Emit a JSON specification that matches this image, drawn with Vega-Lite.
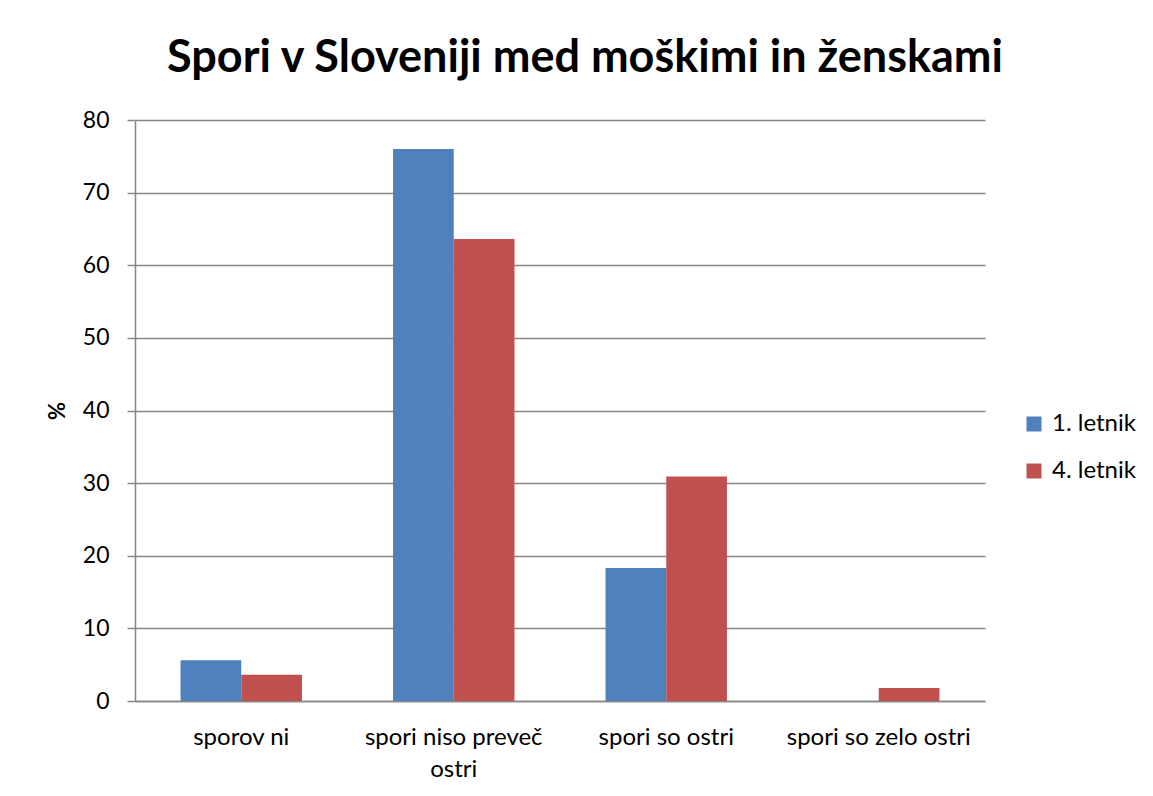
{
  "$schema": "https://vega.github.io/schema/vega-lite/v6.json",
  "autosize": {"type": "none"},
  "padding": {"left": 135, "top": 120, "right": 168, "bottom": 95},
  "width": 850,
  "height": 581,
  "background": "white",
  "title": {
    "text": "Spori v Sloveniji med moškimi in ženskami",
    "font": "Lato",
    "fontSize": 45,
    "fontWeight": "bold",
    "color": "#000000",
    "anchor": "middle",
    "frame": "group",
    "baseline": "alphabetic",
    "dx": 25,
    "offset": -8
  },
  "data": {
    "values": [
      {"kategorija": "sporov ni", "letnik": "1. letnik", "odstotek": 5.6},
      {"kategorija": "sporov ni", "letnik": "4. letnik", "odstotek": 3.6},
      {"kategorija": "spori niso preveč ostri", "letnik": "1. letnik", "odstotek": 76.0},
      {"kategorija": "spori niso preveč ostri", "letnik": "4. letnik", "odstotek": 63.6},
      {"kategorija": "spori so ostri", "letnik": "1. letnik", "odstotek": 18.3},
      {"kategorija": "spori so ostri", "letnik": "4. letnik", "odstotek": 30.9},
      {"kategorija": "spori so zelo ostri", "letnik": "1. letnik", "odstotek": 0},
      {"kategorija": "spori so zelo ostri", "letnik": "4. letnik", "odstotek": 1.8}
    ]
  },
  "mark": {"type": "bar"},
  "encoding": {
    "x": {
      "field": "kategorija",
      "type": "nominal",
      "sort": ["sporov ni", "spori niso preveč ostri", "spori so ostri", "spori so zelo ostri"],
      "scale": {"paddingInner": 0.4286, "paddingOuter": 0.2143},
      "axis": {
        "title": null,
        "labelAngle": 0,
        "labelFont": "Lato",
        "labelFontSize": 24,
        "labelColor": "#000000",
        "labelPadding": 24,
        "labelLimit": 300,
        "ticks": false,
        "domainColor": "#868686",
        "domainWidth": 1.5,
        "labelExpr": "datum.value == 'spori niso preveč ostri' ? ['spori niso preveč', 'ostri'] : datum.label",
        "labelLineHeight": 32
      }
    },
    "xOffset": {"field": "letnik", "type": "nominal"},
    "y": {
      "field": "odstotek",
      "type": "quantitative",
      "scale": {"domain": [0, 80], "nice": false},
      "axis": {
        "title": "%",
        "titleFont": "Lato",
        "titleFontSize": 22,
        "titleFontWeight": "bold",
        "titleColor": "#000000",
        "titlePadding": 13,
        "values": [0, 10, 20, 30, 40, 50, 60, 70, 80],
        "labelFont": "Lato",
        "labelFontSize": 23,
        "labelColor": "#000000",
        "labelPadding": 18,
        "tickSize": 8,
        "tickColor": "#868686",
        "tickWidth": 1.5,
        "domainColor": "#868686",
        "domainWidth": 1.5,
        "grid": true,
        "gridColor": "#868686",
        "gridWidth": 1.5
      }
    },
    "color": {
      "field": "letnik",
      "type": "nominal",
      "scale": {"domain": ["1. letnik", "4. letnik"], "range": ["#4F81BD", "#C0504D"]},
      "legend": {
        "title": null,
        "orient": "none",
        "legendX": 887,
        "legendY": 292,
        "symbolType": "square",
        "symbolSize": 225,
        "symbolStrokeWidth": 0,
        "labelFont": "Lato",
        "labelFontSize": 24,
        "labelColor": "#000000",
        "labelOffset": 6,
        "rowPadding": 23
      }
    }
  },
  "config": {
    "view": {"stroke": null}
  }
}
